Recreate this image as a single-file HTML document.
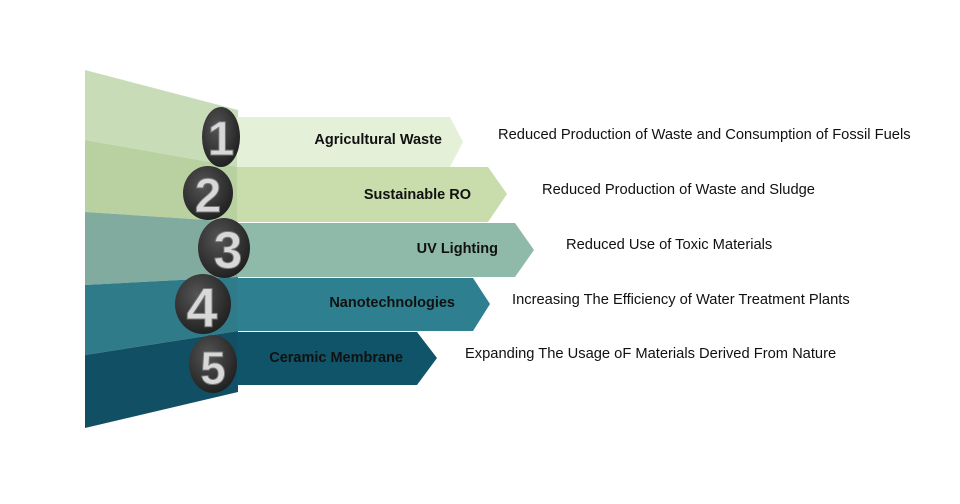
<!DOCTYPE html>
<html><head><style>
body{margin:0;width:960px;height:504px;background:#fff;overflow:hidden;font-family:"Liberation Sans",sans-serif}
.t{position:absolute;font-size:14.7px;color:#111;white-space:nowrap}
</style></head><body>
<svg width="960" height="504" style="position:absolute;left:0;top:0">
<defs>
<radialGradient id="c" cx="40%" cy="35%" r="70%"><stop offset="0" stop-color="#555"/><stop offset="1" stop-color="#1e1e1e"/></radialGradient>
</defs>
<polygon points="85,70 238,110 238,167 85,140" fill="#c8dcb8"/>
<polygon points="85,140 238,167 238,222 85,212" fill="#b9d0a0"/>
<polygon points="85,212 238,222 238,277 85,285" fill="#82ab9f"/>
<polygon points="85,285 238,277 238,331 85,355" fill="#2f7b8a"/>
<polygon points="85,355 238,331 238,392 85,428" fill="#115064"/>
<polygon points="237,117 450,117 463,142 450,167 237,167" fill="#e4f0d8"/>
<polygon points="237,167 488,167 507,194 488,222 237,222" fill="#c9dcab"/>
<polygon points="237,223 515,223 534,250 515,277 237,277" fill="#8fb9a9"/>
<polygon points="237,278 473,278 490,304 473,331 237,331" fill="#2e8091"/>
<polygon points="237,332 417,332 437,358 417,385 237,385" fill="#0f5468"/>
<g font-family="Liberation Sans,sans-serif" font-weight="bold" text-anchor="end" font-size="14.5" fill="#111">
<text x="442" y="144">Agricultural Waste</text>
<text x="471" y="199">Sustainable RO</text>
<text x="498" y="253">UV Lighting</text>
<text x="455" y="307">Nanotechnologies</text>
<text x="403" y="362">Ceramic Membrane</text>
</g>
<g font-family="Liberation Sans,sans-serif" font-weight="bold" text-anchor="middle" fill="#d8d8d8" stroke="#777" stroke-width="1">
<ellipse cx="221" cy="137" rx="19" ry="30" fill="url(#c)" stroke="none"/>
<text x="221" y="155" font-size="48">1</text>
<ellipse cx="208" cy="193" rx="25" ry="27" fill="url(#c)" stroke="none"/>
<text x="208" y="212" font-size="48">2</text>
<ellipse cx="224" cy="248" rx="26" ry="30" fill="url(#c)" stroke="none"/>
<text x="228" y="268" font-size="52">3</text>
<ellipse cx="203" cy="304" rx="28" ry="30" fill="url(#c)" stroke="none"/>
<text x="202" y="327" font-size="56">4</text>
<ellipse cx="213" cy="364" rx="24" ry="29" fill="url(#c)" stroke="none"/>
<text x="213" y="384" font-size="46">5</text>
</g>
</svg>
<div class="t" style="left:498px;top:127px">Reduced Production of Waste and Consumption of Fossil Fuels</div>
<div class="t" style="left:542px;top:182px">Reduced Production of Waste and Sludge</div>
<div class="t" style="left:566px;top:237px">Reduced Use of Toxic Materials</div>
<div class="t" style="left:512px;top:292px">Increasing The Efficiency of Water Treatment Plants</div>
<div class="t" style="left:465px;top:346px">Expanding The Usage oF Materials Derived From Nature</div>
</body></html>
